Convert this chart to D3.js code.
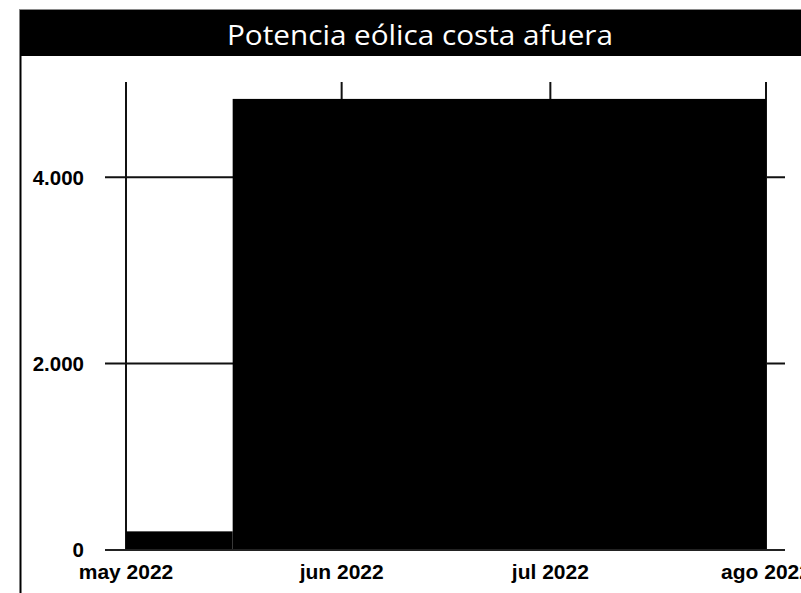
<!DOCTYPE html>
<html>
<head>
<meta charset="utf-8">
<script src="https://cdn.jsdelivr.net/npm/d3@7/dist/d3.min.js"></script>
<style>
  html, body { margin: 0; padding: 0; background: #fff; }
  svg { display: block; }
</style>
</head>
<body>
<script>
// ---- data ----
const title = "Potencia eólica costa afuera";
const stepStarts = ["2022-05-01T00:00:00Z", "2022-05-16T08:00:00Z"];
const stepValues = [200, 4840];
const seriesEnd = "2022-08-01T00:00:00Z";
const xTickDates = ["2022-05-01T00:00:00Z", "2022-06-01T00:00:00Z", "2022-07-01T00:00:00Z", "2022-08-01T00:00:00Z"];
const xTickLabels = ["may 2022", "jun 2022", "jul 2022", "ago 2022"];
const yTickValues = [0, 2000, 4000];
const yTickLabels = ["0", "2.000", "4.000"];

// ---- layout ----
const W = 801, H = 593;
const svg = d3.select("body").append("svg").attr("width", W).attr("height", H);

const x = d3.scaleUtc()
  .domain([new Date(xTickDates[0]), new Date(xTickDates[3])])
  .range([126, 766]);
const y = d3.scaleLinear().domain([0, 5000]).range([550, 84]);

// frame
svg.append("line").attr("x1", 19).attr("x2", W).attr("y1", 9.5).attr("y2", 9.5)
  .attr("stroke", "#8a8a8a").attr("stroke-width", 1);
svg.append("rect").attr("x", 20).attr("y", 10).attr("width", W - 20).attr("height", 46).attr("fill", "#000");
svg.append("line").attr("x1", 20.5).attr("x2", 20.5).attr("y1", 10).attr("y2", H)
  .attr("stroke", "#000").attr("stroke-width", 2);

svg.append("text")
  .attr("x", 420).attr("y", 44.5)
  .attr("text-anchor", "middle")
  .attr("font-family", "'Open Sans', 'Noto Sans', sans-serif")
  .attr("font-size", 28)
  .attr("fill", "#fff")
  .attr("textLength", 386)
  .attr("lengthAdjust", "spacingAndGlyphs")
  .text(title);

// horizontal gridlines (under bars)
const gy = svg.append("g");
gy.selectAll("line").data(yTickValues.filter(v => v !== 0)).join("line")
  .attr("x1", 105).attr("x2", 785)
  .attr("y1", d => y(d)).attr("y2", d => y(d))
  .attr("stroke", "#111").attr("stroke-width", 2);

// vertical gridlines (under bars)
const gx = svg.append("g");
gx.selectAll("line").data(xTickDates).join("line")
  .attr("x1", d => x(new Date(d))).attr("x2", d => x(new Date(d)))
  .attr("y1", 82).attr("y2", y(0))
  .attr("stroke", "#111").attr("stroke-width", 2);

// bars (step series)
const steps = stepStarts.map((s, i) => ({
  start: new Date(s),
  end: new Date(i + 1 < stepStarts.length ? stepStarts[i + 1] : seriesEnd),
  value: stepValues[i]
}));
svg.append("g").selectAll("rect").data(steps).join("rect")
  .attr("x", d => x(d.start))
  .attr("width", d => x(d.end) - x(d.start))
  .attr("y", d => y(d.value))
  .attr("height", d => y(0) - y(d.value))
  .attr("fill", "#000");

// baseline on top
svg.append("line")
  .attr("x1", 105).attr("x2", 785)
  .attr("y1", y(0)).attr("y2", y(0))
  .attr("stroke", "#222").attr("stroke-width", 2);

// y labels
svg.append("g").selectAll("text").data(yTickValues).join("text")
  .attr("x", 84).attr("y", d => y(d)).attr("dy", "0.36em")
  .attr("text-anchor", "end")
  .attr("font-family", "'Liberation Sans', Arial, sans-serif")
  .attr("font-weight", "bold").attr("font-size", 20.5)
  .attr("fill", "#000")
  .text((d, i) => yTickLabels[i]);

// x labels
svg.append("g").selectAll("text").data(xTickDates).join("text")
  .attr("x", d => x(new Date(d))).attr("y", 579)
  .attr("text-anchor", "middle")
  .attr("font-family", "'Liberation Sans', Arial, sans-serif")
  .attr("font-weight", "bold").attr("font-size", 21)
  .attr("fill", "#000")
  .text((d, i) => xTickLabels[i]);
</script>
</body>
</html>
